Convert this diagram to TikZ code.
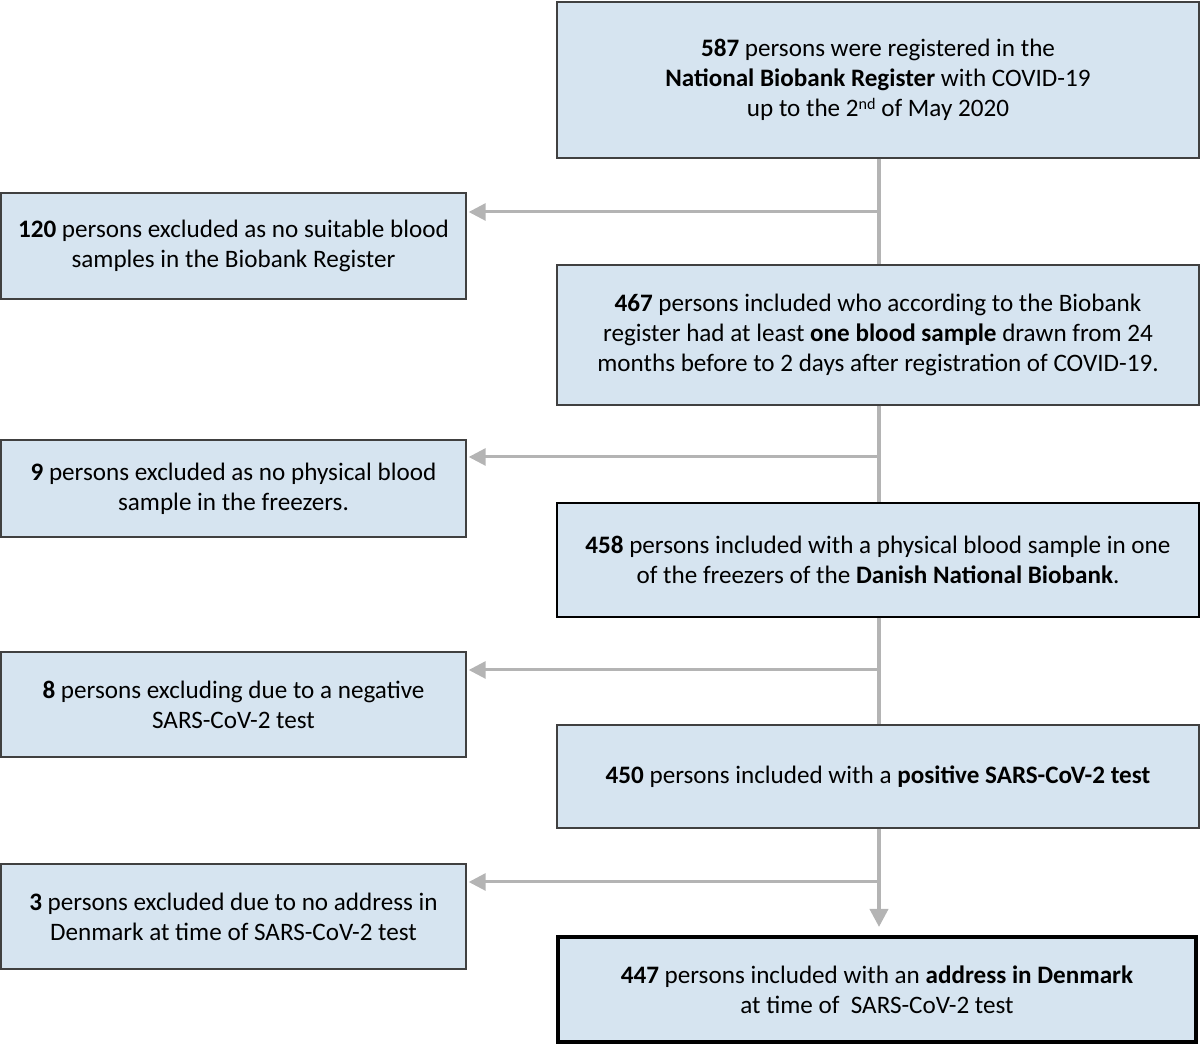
\documentclass[tikz,border=0pt]{standalone}
\usepackage{fontspec}
\setmainfont{Carlito}
\usetikzlibrary{arrows.meta}
\usetikzlibrary{positioning}
\usetikzlibrary{calc}

\definecolor{boxblue}{RGB}{214,228,240}
\definecolor{linegray}{RGB}{180,180,180}

\begin{document}
\begin{tikzpicture}[x=1cm, y=1cm,
    flowbox/.style={draw=black!75, line width=0.4pt, fill=boxblue, align=center,
        inner sep=0pt, font=\fontsize{7.15}{8.55}\selectfont},
    trunk/.style={draw=linegray, line width=1.1pt},
    sidearrow/.style={draw=linegray, line width=0.85pt,
        -{Triangle[length=1.7mm, width=1.7mm]}}]
    % page frame
    \useasboundingbox (0,0) rectangle (12,-10.46);

    % main column (right)
    \def\mx{8.78};
    \node[flowbox, minimum width=6.42cm, minimum height=1.56cm] (B1) at (\mx,-0.80)
        {\textbf{587} persons were registered in the\\
         \textbf{National Biobank Register} with COVID-19\\
         up to the 2\raisebox{0.6ex}{\fontsize{4.6}{5}\selectfont nd} of May 2020};
    \node[flowbox, minimum width=6.42cm, minimum height=1.40cm] (B2) at (\mx,-3.35)
        {\textbf{467} persons included who according to the Biobank\\
         register had at least \textbf{one blood sample} drawn from 24\\
         months before to 2 days after registration of COVID-19.};
    \node[flowbox, draw=black, minimum width=6.42cm, minimum height=1.14cm] (B3) at (\mx,-5.60)
        {\textbf{458} persons included with a physical blood sample in one\\
         of the freezers of the \textbf{Danish National Biobank}.};
    \node[flowbox, minimum width=6.42cm, minimum height=1.03cm] (B4) at (\mx,-7.765)
        {\textbf{450} persons included with a \textbf{positive SARS-CoV-2 test}};
    \node[flowbox, draw=black, line width=1.3pt, minimum width=6.38cm, minimum height=1.05cm] (B5) at (8.77,-9.895)
        {\textbf{447} persons included with an \textbf{address in Denmark}\\
         at time of\ \ SARS-CoV-2 test};

    % excluded (left)
    \def\lx{2.335};
    \node[flowbox, minimum width=4.65cm, minimum height=1.06cm] (L1) at (\lx,-2.46)
        {\textbf{120} persons excluded as no suitable blood\\
         samples in the Biobank Register};
    \node[flowbox, minimum width=4.65cm, minimum height=0.97cm] (L2) at (\lx,-4.885)
        {\textbf{9} persons excluded as no physical blood\\
         sample in the freezers.};
    \node[flowbox, minimum width=4.65cm, minimum height=1.05cm] (L3) at (\lx,-7.045)
        {\textbf{8} persons excluding due to a negative\\
         SARS-CoV-2 test};
    \node[flowbox, minimum width=4.65cm, minimum height=1.05cm] (L4) at (\lx,-9.165)
        {\textbf{3} persons excluded due to no address in\\
         Denmark at time of SARS-CoV-2 test};

    % junctions on the trunk
    \foreach \id/\y in {J1/-2.12, J2/-4.57, J3/-6.70, J4/-8.82}
        \coordinate (\id) at (8.79,\y);
    \coordinate (T5) at (8.79,-9.27);

    \draw[trunk] (B1.south -| J1) -- (B2.north -| J1);
    \draw[trunk] (B2.south -| J1) -- (B3.north -| J1);
    \draw[trunk] (B3.south -| J1) -- (B4.north -| J1);
    \draw[trunk, -{Triangle[length=1.8mm, width=1.8mm]}] (B4.south -| J1) -- (T5);

    \foreach \j/\l in {J1/L1, J2/L2, J3/L3, J4/L4}
        \draw[sidearrow] (\j) -- ($(\j -| \l.east) + (0.02,0)$);

\end{tikzpicture}
\end{document}
